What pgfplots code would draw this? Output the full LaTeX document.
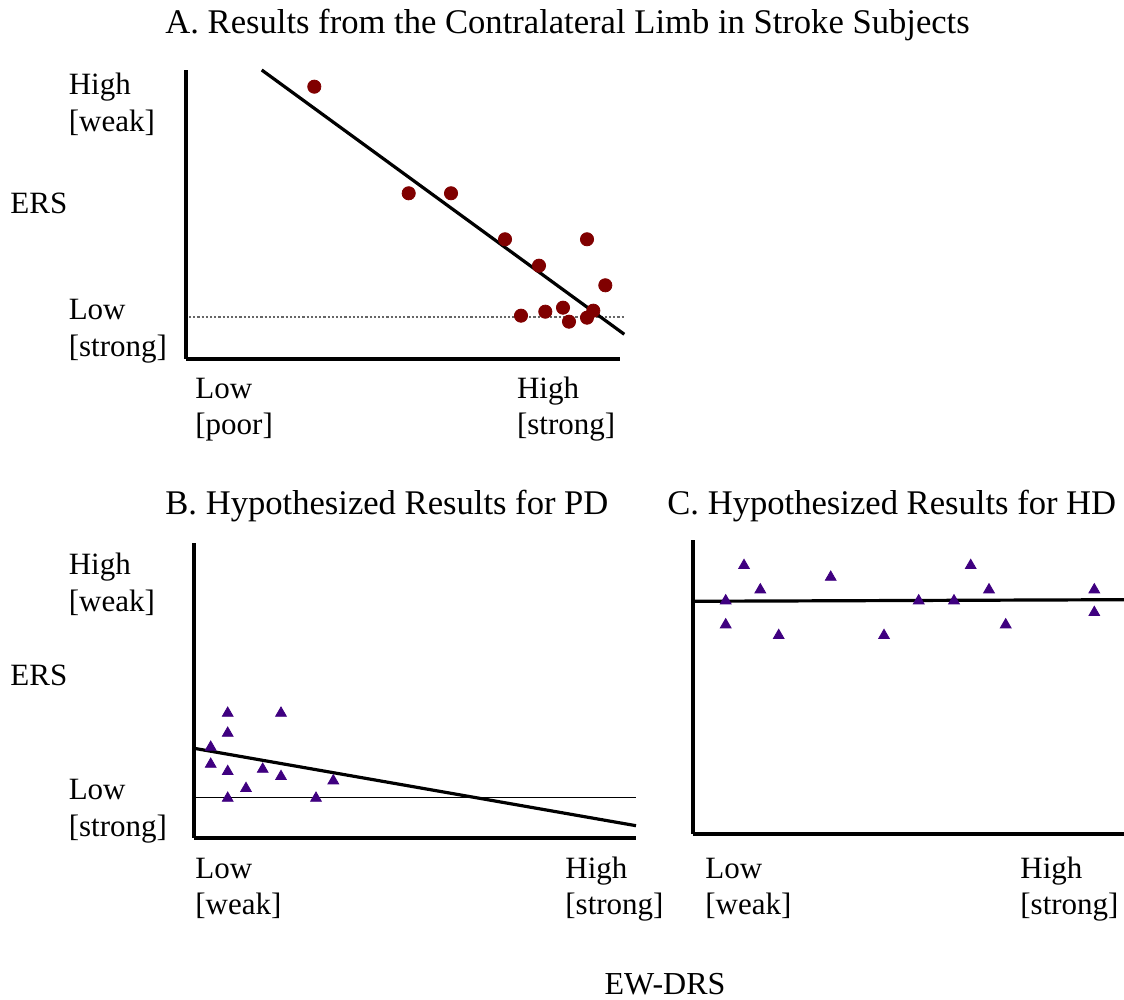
\documentclass[border=0pt]{standalone}
\usepackage{pgfplots}
\pgfplotsset{compat=1.18}
\usepackage{fontspec}
\setmainfont{Liberation Serif}
\definecolor{dotred}{HTML}{800000}
\definecolor{tripurple}{HTML}{3F0080}
\pgfplotsset{
  panel/.style={
    x=0.5pt, y=0.5pt, enlargelimits=false, clip=false,
    axis lines=left, axis line style={-, line width=2pt, black},
    ticks=none, anchor=south west,
  },
}
\begin{document}
\begin{tikzpicture}
\useasboundingbox (0,0) rectangle (562pt,500pt);
% Panel A
\begin{axis}[panel, at={(93pt,320.5pt)}, xmin=186, xmax=620, ymin=641, ymax=930]
\addplot[gray!80!black, line width=1.1pt, densely dotted] coordinates {(189,683) (624,683)};
\addplot[black, line width=1.6pt] coordinates {(261.7,930) (624.3,665.7)};
\addplot[only marks, mark=*, mark size=3.3pt, draw=dotred, fill=dotred] coordinates {
(314.3,913.3) (408.7,806.7) (451,806.7) (505,760.7) (539,734.3) (587,760.7)
(605.3,714.7) (521,684.3) (545.3,688.3) (563,692.3) (569,678.3) (587,682.3) (593.3,689.3)};
\end{axis}
% Panel B
\begin{axis}[panel, at={(97pt,81pt)}, xmin=194, xmax=636, ymin=162, ymax=457]
\addplot[black, line width=0.75pt] coordinates {(195,202.3) (636,202.3)};
\addplot[black, line width=1.6pt] coordinates {(194,251.7) (636,174.3)};
\addplot[only marks, mark=triangle*, mark size=3.1pt, draw=tripurple, fill=tripurple] coordinates {
(227.7,286.8) (281,286.8) (227.7,266.8) (210.7,252.8) (210.7,235.8) (227.7,228.5)
(262.7,230.8) (281,223.5) (333.3,219.2) (246,211.5) (227.7,201.8) (316,201.8)};
\end{axis}
% Panel C
\begin{axis}[panel, at={(346.5pt,83pt)}, xmin=693, xmax=1124, ymin=166, ymax=460]
\addplot[black, line width=1.6pt] coordinates {(693,398.7) (1124,400.3)};
\addplot[only marks, mark=triangle*, mark size=3.1pt, draw=tripurple, fill=tripurple] coordinates {
(744,434.5) (830.7,422.8) (760.3,410.2) (725.7,399.2) (918.7,399.2) (954,399.2)
(970.7,434.5) (989,410.2) (1094.3,410.2) (1094.3,387.5) (725.7,375.2) (778.7,364.5)
(884,364.5) (1005.7,375.2)};
\end{axis}
% Texts
\begin{scope}[every node/.style={anchor=base west, inner sep=0pt, font=\fontsize{15.5}{18}\selectfont}]
\node[font=\fontsize{17.3}{20}\selectfont] at (82.5pt,483.35pt) {A. Results from the Contralateral Limb in Stroke Subjects};
\node at (34.2pt,452.5pt) {High};
\node at (34.2pt,434.15pt) {[weak]};
\node at (5pt,393pt) {ERS};
\node at (34.2pt,340pt) {Low};
\node at (34.2pt,321.65pt) {[strong]};
\node at (97.5pt,300.85pt) {Low};
\node at (97.5pt,282.5pt) {[poor]};
\node at (258.35pt,300.85pt) {High};
\node at (258.35pt,282.5pt) {[strong]};
\node[font=\fontsize{17.3}{20}\selectfont] at (82.5pt,242.5pt) {B. Hypothesized Results for PD};
\node[font=\fontsize{17.3}{20}\selectfont] at (333.5pt,242.5pt) {C. Hypothesized Results for HD};
\node at (34.2pt,212.5pt) {High};
\node at (34.2pt,194.15pt) {[weak]};
\node at (5pt,157pt) {ERS};
\node at (34.2pt,100pt) {Low};
\node at (34.2pt,81.65pt) {[strong]};
\node at (97.5pt,60.85pt) {Low};
\node at (97.5pt,42.5pt) {[weak]};
\node at (282.5pt,60.85pt) {High};
\node at (282.5pt,42.5pt) {[strong]};
\node at (352.5pt,60.85pt) {Low};
\node at (352.5pt,42.5pt) {[weak]};
\node at (510pt,60.85pt) {High};
\node at (510pt,42.5pt) {[strong]};
\node[anchor=base, font=\fontsize{16}{18}\selectfont] at (332.5pt,2.5pt) {EW-DRS};
\end{scope}
\end{tikzpicture}
\end{document}
